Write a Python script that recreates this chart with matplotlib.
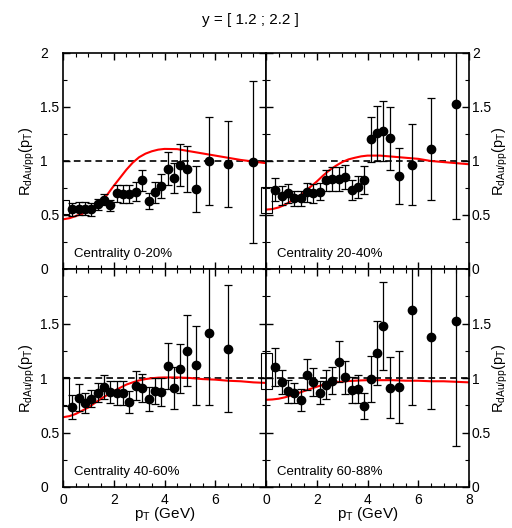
import matplotlib
matplotlib.use("Agg")
import matplotlib.pyplot as plt
from matplotlib.patches import Rectangle
from matplotlib.ticker import MultipleLocator

plt.rcParams['font.family'] = ['Liberation Sans', 'DejaVu Sans']
plt.rcParams['mathtext.fontset'] = 'custom'
plt.rcParams['mathtext.rm'] = 'Liberation Sans'
plt.rcParams['mathtext.it'] = 'Liberation Sans'

# pT bin centres (GeV)
pt = [0.37, 0.62, 0.87, 1.12, 1.37, 1.62, 1.87, 2.12, 2.37, 2.62, 2.87, 3.12,
      3.37, 3.62, 3.87, 4.12, 4.37, 4.62, 4.87, 5.25, 5.75, 6.5, 7.5]

# centrality 0-20%
r_0_20 = [0.555, 0.56, 0.56, 0.555, 0.60, 0.64, 0.59, 0.70, 0.695, 0.695, 0.716, 0.82,
          0.63, 0.71, 0.77, 0.93, 0.84, 0.96, 0.925, 0.74, 1.0, 0.975, 0.99]
e_0_20 = [0.06, 0.06, 0.06, 0.06, 0.05, 0.05, 0.05, 0.08, 0.08, 0.08, 0.085, 0.10,
          0.075, 0.10, 0.11, 0.155, 0.14, 0.195, 0.21, 0.21, 0.41, 0.40, 0.75]

# centrality 20-40%
r_20_40 = [0.735, 0.68, 0.70, 0.655, 0.655, 0.71, 0.70, 0.716, 0.82, 0.835, 0.835, 0.85,
           0.73, 0.76, 0.82, 1.20, 1.256, 1.28, 1.21, 0.86, 0.966, 1.11, 1.525]
e_20_40 = [0.105, 0.09, 0.09, 0.07, 0.07, 0.085, 0.085, 0.08, 0.10, 0.11, 0.11, 0.11,
           0.09, 0.10, 0.13, 0.21, 0.255, 0.28, 0.29, 0.26, 0.375, 0.47, 1.065]

# centrality 40-60% (no 7.5 GeV point)
r_40_60 = [0.737, 0.82, 0.77, 0.81, 0.865, 0.917, 0.875, 0.86, 0.86, 0.78, 0.93, 0.91,
           0.81, 0.88, 0.87, 1.11, 0.91, 1.083, 1.25, 1.115, 1.415, 1.27]
e_40_60 = [0.11, 0.125, 0.09, 0.08, 0.085, 0.11, 0.10, 0.11, 0.11, 0.10, 0.13, 0.13,
           0.11, 0.12, 0.13, 0.215, 0.19, 0.225, 0.325, 0.365, 0.66, 0.58]

# centrality 60-88%
r_60_88 = [1.10, 0.963, 0.88, 0.86, 0.80, 1.03, 0.963, 0.865, 0.94, 0.975, 1.15, 1.006,
           0.887, 0.90, 0.746, 0.99, 1.23, 1.477, 0.91, 0.915, 1.624, 1.38, 1.525]
e_60_88 = [0.175, 0.11, 0.105, 0.09, 0.10, 0.14, 0.13, 0.105, 0.13, 0.125, 0.185, 0.15,
           0.12, 0.13, 0.12, 0.21, 0.29, 0.40, 0.28, 0.33, 0.87, 0.66, 1.15]

# theory curves
curve_x = [0, 0.25, 0.5, 0.75, 1.0, 1.25, 1.5, 1.75, 2.0, 2.25, 2.5, 2.75, 3.0, 3.25, 3.5,
           3.75, 4.0, 4.5, 5.0, 5.5, 6.0, 6.5, 7.0, 7.5, 8.0]
curve_0_20 = [0.46, 0.47, 0.49, 0.51, 0.54, 0.58, 0.63, 0.69, 0.77, 0.845, 0.92, 0.985,
              1.035, 1.068, 1.09, 1.105, 1.112, 1.11, 1.09, 1.07, 1.05, 1.03, 1.01, 0.995, 0.98]
curve_20_40 = [0.55, 0.555, 0.57, 0.595, 0.63, 0.665, 0.71, 0.76, 0.81, 0.865, 0.915, 0.955,
               0.99, 1.015, 1.03, 1.043, 1.05, 1.05, 1.04, 1.03, 1.02, 1.00, 0.99, 0.98, 0.97]
curve_40_60 = [0.64, 0.65, 0.67, 0.70, 0.73, 0.77, 0.81, 0.845, 0.88, 0.91, 0.94, 0.96,
               0.978, 0.99, 0.998, 1.003, 1.005, 1.005, 1.0, 0.99, 0.985, 0.975, 0.97, 0.96, 0.955]
curve_60_88 = [0.80, 0.803, 0.81, 0.823, 0.84, 0.86, 0.88, 0.90, 0.92, 0.937, 0.95, 0.96,
               0.967, 0.972, 0.975, 0.978, 0.98, 0.98, 0.98, 0.975, 0.975, 0.97, 0.97, 0.965, 0.96]

# global systematic boxes (low, high)
sys_box = [(0.51, 0.64), (0.52, 0.76), (0.74, 1.01), (0.90, 1.23)]

labels = ['Centrality 0-20%', 'Centrality 20-40%', 'Centrality 40-60%', 'Centrality 60-88%']

W, H = 512, 528
fig = plt.figure(figsize=(W / 100, H / 100), dpi=100)

px = lambda v: v / W
py = lambda v: v / H
rects = [
    (px(63), 1 - py(269), px(203), py(216)),
    (px(266), 1 - py(269), px(203), py(216)),
    (px(63), 1 - py(487), px(203), py(218)),
    (px(266), 1 - py(487), px(203), py(218)),
]

npts = [len(pt), len(pt), len(r_40_60), len(pt)]
values = [r_0_20, r_20_40, r_40_60, r_60_88]
errors = [e_0_20, e_20_40, e_40_60, e_60_88]
curves = [curve_0_20, curve_20_40, curve_40_60, curve_60_88]

ylab = r'R$_{\mathrm{dAu/pp}}$(p$_{\mathrm{T}}$)'

for i in range(4):
    ax = fig.add_axes(rects[i])
    ax.set_xlim(0, 8)
    ax.set_ylim(0, 2)
    ax.axhline(1.0, color='black', ls=(0, (4, 2.5)), lw=1.2, zorder=1)
    ax.plot(curve_x, curves[i], color='red', lw=1.5, zorder=2)
    n = npts[i]
    ax.errorbar(pt[:n], values[i], yerr=errors[i], fmt='o', color='black',
                ms=6, elinewidth=0.9, capsize=2.6, capthick=0.9, zorder=3)
    lo, hi = sys_box[i]
    right = i % 2 == 1
    ax.add_patch(Rectangle((-0.2 if right else 0, lo), 0.45 if right else 0.25, hi - lo,
                           fill=False, edgecolor='black', lw=0.8, clip_on=not right, zorder=2))
    ax.text(0.45, 0.14, labels[i], fontsize=9.5, va='center', ha='left')

    ax.xaxis.set_major_locator(MultipleLocator(2))
    ax.xaxis.set_minor_locator(MultipleLocator(0.5))
    ax.yaxis.set_major_locator(MultipleLocator(0.5))
    ax.yaxis.set_minor_locator(MultipleLocator(0.25))
    ax.tick_params(which='both', direction='in', top=True, bottom=True, left=True, right=True)
    ax.tick_params(which='major', length=5, width=1)
    ax.tick_params(which='minor', length=3, width=0.8)
    for s in ax.spines.values():
        s.set_linewidth(1.2)

    if i < 2:
        ax.set_yticks([0, 0.5, 1, 1.5, 2])
        ax.set_yticklabels(['0', '0.5', '1', '1.5', '2'])
        ax.set_xticklabels([])
    else:
        ax.set_yticks([0, 0.5, 1, 1.5])
        ax.set_yticklabels(['0', '0.5', '1', '1.5'])
        if right:
            ax.set_xticks([0, 2, 4, 6, 8])
            ax.set_xticklabels(['0', '2', '4', '6', '8'])
        else:
            ax.set_xticks([0, 2, 4, 6])
            ax.set_xticklabels(['0', '2', '4', '6'])
        ax.tick_params(axis='x', labelsize=10, pad=4)
        ax.set_xlabel(r'p$_{\mathrm{T}}$ (GeV)', fontsize=11, labelpad=-1)

    if right:
        ax.tick_params(axis='y', labelleft=False, labelright=True, labelsize=10, pad=2)
        ax.yaxis.set_label_position('right')
        ax.set_ylabel(ylab, fontsize=10.5, labelpad=0)
    else:
        ax.tick_params(axis='y', labelsize=10, pad=16.5)
        for lab in ax.get_yticklabels():
            lab.set_horizontalalignment('left')
        ax.set_ylabel(ylab, fontsize=10.5, labelpad=2)

fig.text(px(250), 1 - py(20), 'y = [ 1.2 ; 2.2 ]', fontsize=11, ha='center', va='center')

fig.savefig('out.png', dpi=100)
